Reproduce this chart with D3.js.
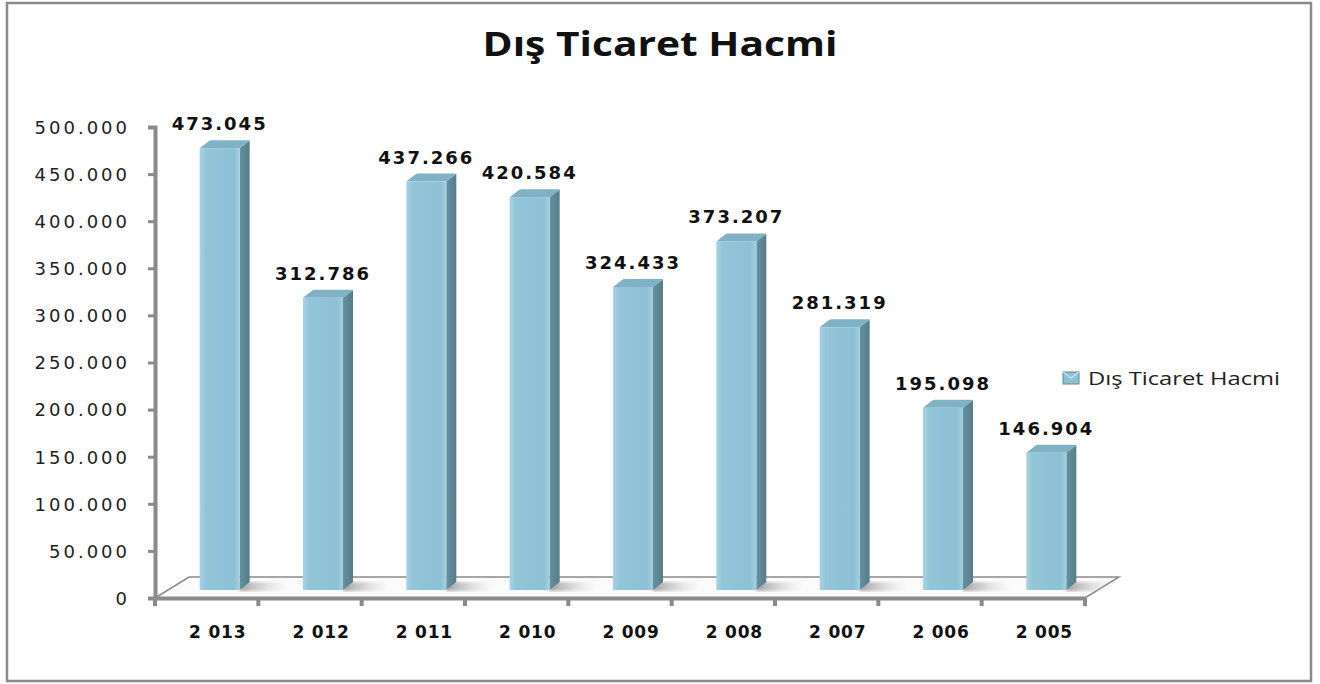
<html>
<head>
<meta charset="UTF-8">
<title>Dış Ticaret Hacmi</title>
<script src="https://d3js.org/d3.v7.min.js"></script>
<style>
  html,body{margin:0;padding:0;background:#fff;}
  .tick-label{font-family:"DejaVu Sans",Verdana,sans-serif;font-size:18px;fill:#222;letter-spacing:3px;}
  .cat-label{font-family:"DejaVu Sans",Verdana,sans-serif;font-size:17px;font-weight:bold;fill:#111;letter-spacing:0.8px;}
  .val-label{font-family:"DejaVu Sans",Verdana,sans-serif;font-size:18px;font-weight:bold;fill:#111;letter-spacing:2px;}
</style>
</head>
<body>
<div id="container"></div>
<script>
const years = ["2 013","2 012","2 011","2 010","2 009","2 008","2 007","2 006","2 005"]
const values = [473045, 312786, 437266, 420584, 324433, 373207, 281319, 195098, 146904]
const valueLabels = ["473.045","312.786","437.266","420.584","324.433","373.207","281.319","195.098","146.904"]
const yTicks = [0, 50000, 100000, 150000, 200000, 250000, 300000, 350000, 400000, 450000, 500000]
const yTickLabels = ["0","50.000","100.000","150.000","200.000","250.000","300.000","350.000","400.000","450.000","500.000"]
const title = "Dış Ticaret Hacmi"
const seriesName = "Dış Ticaret Hacmi"

const W = 1320, H = 684
const svg = d3.select("#container").append("svg").attr("width", W).attr("height", H)

// gradients / filters
const defs = svg.append("defs")
const gFront = defs.append("linearGradient").attr("id","front").attr("x1","0").attr("x2","1")
gFront.append("stop").attr("offset","0").attr("stop-color","#a6d3e4")
gFront.append("stop").attr("offset","0.15").attr("stop-color","#93c5d9")
gFront.append("stop").attr("offset","0.85").attr("stop-color","#8dc0d4")
gFront.append("stop").attr("offset","1").attr("stop-color","#a3d0e1")
const gSide = defs.append("linearGradient").attr("id","side").attr("x1","0").attr("x2","1")
gSide.append("stop").attr("offset","0").attr("stop-color","#65909f")
gSide.append("stop").attr("offset","1").attr("stop-color","#557d8b")
const gShadow = defs.append("linearGradient").attr("id","shadow").attr("x1","0").attr("x2","1")
gShadow.append("stop").attr("offset","0").attr("stop-color","#888").attr("stop-opacity","0.8")
gShadow.append("stop").attr("offset","1").attr("stop-color","#ccc").attr("stop-opacity","0")
defs.append("filter").attr("id","blur").append("feGaussianBlur").attr("stdDeviation","1.5")

// outer border
svg.append("rect").attr("x",7).attr("y",3).attr("width",1304).attr("height",678)
  .attr("fill","none").attr("stroke","#8a8a8a").attr("stroke-width",2.5)

// title
svg.append("text").attr("x",660).attr("y",56).attr("text-anchor","middle")
  .attr("font-family","'Open Sans',sans-serif").attr("font-weight","bold").attr("font-size",34)
  .attr("textLength",355).attr("lengthAdjust","spacingAndGlyphs")
  .attr("fill","#111").text(title)

// scales
const x = d3.scaleBand().domain(years).range([155, 1085]).paddingInner(0).paddingOuter(0)
const yAxisScale = d3.scaleLinear().domain([0, 500000]).range([598, 127])
const yBar = d3.scaleLinear().domain([0, 500000]).range([590, 123])

const depthX = 34, depthY = -21   // floor depth
const barW = 40, sideW = 10, capH = 8, barShift = 13
const base = yBar(0)

// floor plate
const x0 = x.range()[0], x1 = x.range()[1]
svg.append("path")
  .attr("d", `M${x0},598 L${x0+depthX},${598+depthY} L${x1+depthX},${598+depthY} L${x1},598 Z`)
  .attr("fill","#fbfbfb").attr("stroke","#8a8a8a").attr("stroke-width",1.5)

// y axis
const yAxis = d3.axisLeft(yAxisScale).tickValues(yTicks).tickSize(7).tickFormat((d,i) => yTickLabels[i])
const yg = svg.append("g").attr("transform","translate(155,0)").call(yAxis)
yg.select(".domain").attr("stroke","#8a8a8a").attr("stroke-width",4)
yg.selectAll(".tick line").attr("stroke","#8a8a8a").attr("stroke-width",3)
yg.selectAll(".tick text").attr("class","tick-label").attr("x",-25).attr("dy","0.35em")

// x axis
const xAxis = d3.axisBottom(x).tickSize(0).tickFormat("")
const xg = svg.append("g").attr("transform","translate(0,598)").call(xAxis)
xg.select(".domain").attr("stroke","#8a8a8a").attr("stroke-width",4)
// tick marks on band boundaries
xg.selectAll(".bnd").data(d3.range(years.length + 1)).enter().append("line")
  .attr("x1", i => x0 + i * x.step()).attr("x2", i => x0 + i * x.step())
  .attr("y1", 0).attr("y2", 8).attr("stroke","#8a8a8a").attr("stroke-width",4)

// category labels
svg.selectAll(".cat-label").data(years).enter().append("text")
  .attr("class","cat-label").attr("text-anchor","middle")
  .attr("x", d => x(d) + x.bandwidth()/2 + 11).attr("y", 638)
  .text(d => d)

// bars
const bars = svg.selectAll(".bar").data(values).enter().append("g").attr("class","bar")
const bx = (d,i) => x(years[i]) + x.bandwidth()/2 + barShift - barW/2

// shadows on floor
bars.append("path")
  .attr("d", (d,i) => {
    const l = bx(d,i) + barW
    return `M${l},${base-capH} L${l+48},${base-8} L${l+42},${base+1} L${l},${base+1} Z`
  })
  .attr("fill","url(#shadow)").attr("filter","url(#blur)")

// side face
bars.append("path")
  .attr("d", (d,i) => {
    const l = bx(d,i) + barW, t = yBar(d)
    return `M${l},${t} L${l+sideW},${t-capH} L${l+sideW},${base-capH} L${l},${base} Z`
  })
  .attr("fill","url(#side)")

// top cap
bars.append("path")
  .attr("d", (d,i) => {
    const l = bx(d,i), t = yBar(d)
    return `M${l},${t} L${l+sideW-1},${t-capH+1} Q${l+sideW},${t-capH} ${l+sideW+2},${t-capH} L${l+barW+sideW-2},${t-capH} Q${l+barW+sideW},${t-capH} ${l+barW+sideW},${t-capH+1} L${l+barW},${t} Z`
  })
  .attr("fill","#7fb2c5")

// front face
bars.append("rect")
  .attr("x", (d,i) => bx(d,i)).attr("y", d => yBar(d))
  .attr("width", barW).attr("height", d => base - yBar(d))
  .attr("fill","url(#front)")

// value labels
svg.selectAll(".val-label").data(values).enter().append("text")
  .attr("class","val-label").attr("text-anchor","middle")
  .attr("x", (d,i) => bx(d,i) + barW/2)
  .attr("y", d => yBar(d) - capH - 10)
  .text((d,i) => valueLabels[i])

// legend
const lg = svg.append("g").attr("transform","translate(1063,372)")
lg.append("rect").attr("width",16).attr("height",12).attr("fill","#8cc0d4").attr("stroke","#5e8896").attr("stroke-width",1)
lg.append("path").attr("d","M0,0 L8,6 L16,0").attr("fill","none").attr("stroke","#cfe6ef").attr("stroke-width",1.2)
lg.append("text").attr("x",25).attr("y",13)
  .attr("font-family","'Open Sans',sans-serif").attr("font-size",18)
  .attr("textLength",192).attr("lengthAdjust","spacingAndGlyphs")
  .attr("fill","#222").text(seriesName)
</script>
</body>
</html>
